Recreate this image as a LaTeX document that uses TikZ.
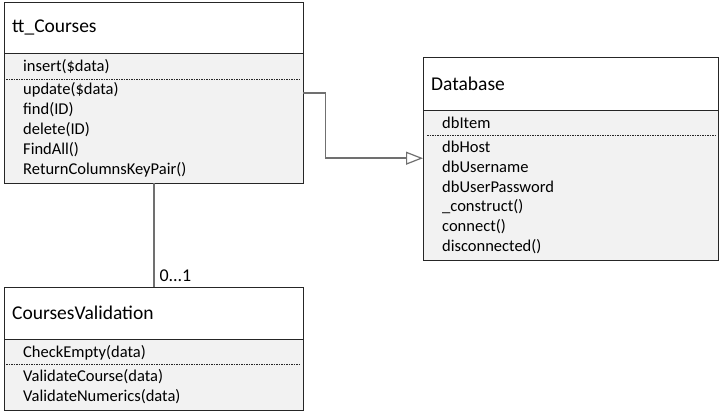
\documentclass[tikz,border=0pt]{standalone}
\usepackage{fontspec}
\setmainfont{Carlito}
\usetikzlibrary{arrows.meta}

\definecolor{boxline}{HTML}{262626}
\definecolor{bodygray}{HTML}{F2F2F2}
\definecolor{linkgray}{HTML}{707070}

\tikzset{
    classhead/.style={draw=boxline, fill=white, anchor=north west, minimum width=299pt,
        minimum height=51pt, inner xsep=8pt, text width=283pt, align=left,
        font=\fontsize{19.5}{22}\selectfont},
    classbody/.style={draw=boxline, fill=bodygray, anchor=north west, minimum width=299pt},
    member/.style={anchor=west, inner sep=0pt, font=\fontsize{16.5}{18}\selectfont},
    sepline/.style={draw=boxline, line width=0.6pt, dash pattern=on 1.5pt off 1pt},
    link/.style={draw=linkgray, line width=1.6pt},
    inherit/.style={link, -{Triangle[open, length=17pt, width=13pt, line width=1.2pt, fill=white]}}
}

\begin{document}
\begin{tikzpicture}[x=1pt, y=-1pt]
            \useasboundingbox (0, 0) rectangle (724, 415);

            % tt_Courses
            \node[classbody, minimum height=130pt] (tc-body) at (4, 53) {};
            \node[classhead] (tc-head) at (4, 2) {tt\_Courses};
            \node[member] (tc-m0) at (23, 67) {insert(\$data)};
            \draw[sepline] (6, 79) -- (299, 79);
            \foreach \txt [count=\i] in {update(\$data), find(ID), delete(ID), FindAll(), ReturnColumnsKeyPair()}
                \node[member] at (23, 70+20*\i) {\txt};

            % Database
            \node[classbody, minimum width=295pt, minimum height=150pt] (db-body) at (423, 110) {};
            \node[classhead, minimum width=295pt, minimum height=53pt, text width=279pt] (db-head) at (423, 57) {Database};
            \node[member] (db-m0) at (442, 123) {dbItem};
            \draw[sepline] (427, 135) -- (717, 135);
            \foreach \txt [count=\i] in {dbHost, dbUsername, dbUserPassword, \_construct(), connect(), disconnected()}
                \node[member] at (442, 127+20*\i) {\txt};

            % CoursesValidation
            \node[classbody, minimum height=71pt] (cv-body) at (4, 339) {};
            \node[classhead, minimum height=52pt] (cv-head) at (4, 287) {CoursesValidation};
            \node[member] (cv-m0) at (23, 353) {CheckEmpty(data)};
            \draw[sepline] (6, 364) -- (299, 364);
            \foreach \txt [count=\i] in {ValidateCourse(data), ValidateNumerics(data)}
                \node[member] at (23, 357+20*\i) {\txt};

            % connectors
            \draw[inherit] ([yshift=25pt]tc-body.east) -- ++(22, 0) |- ([yshift=27pt]db-body.west);
            \draw[link] (tc-body.south) -- (cv-head.north)
                node[pos=1, anchor=south west, inner xsep=5pt, inner ysep=5pt,
                     font=\fontsize{18}{20}\selectfont] (mult) {0...1};
        \end{tikzpicture}
\end{document}
